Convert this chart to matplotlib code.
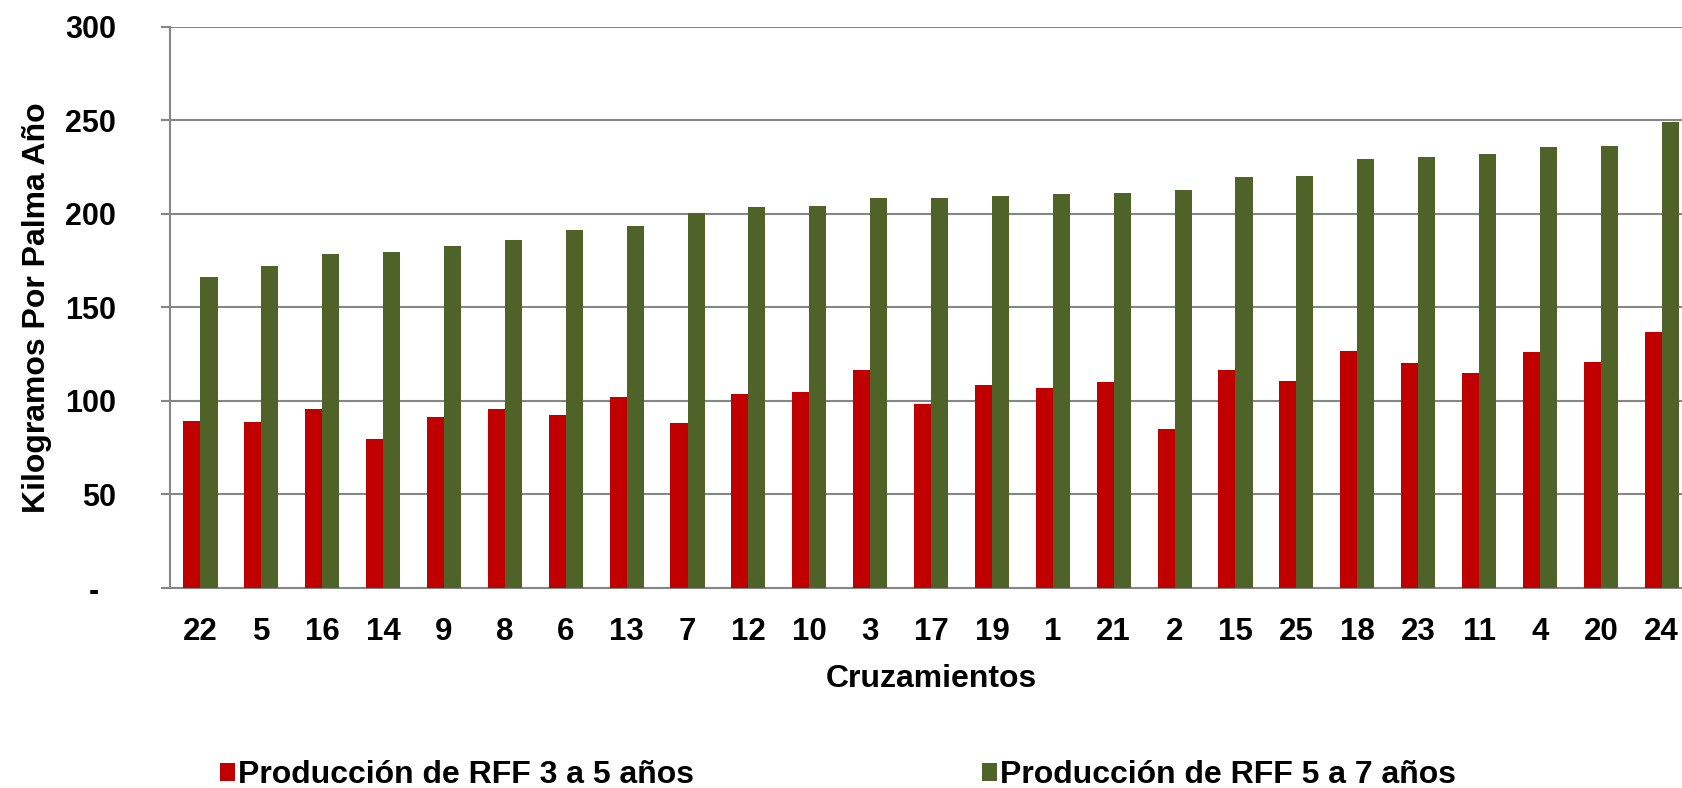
import numpy as np
import matplotlib
matplotlib.use('Agg')
from matplotlib import pyplot as plt

plt.rcParams['font.family'] = ['Liberation Sans', 'DejaVu Sans']
plt.rcParams['font.weight'] = 'bold'

# Cruzamientos ordenados por produccion de 5 a 7 años
cruzamientos = ['22', '5', '16', '14', '9', '8', '6', '13', '7', '12', '10', '3', '17',
                '19', '1', '21', '2', '15', '25', '18', '23', '11', '4', '20', '24']

rff_3_5 = [89.5, 88.6, 95.6, 79.9, 91.6, 95.7, 92.5, 102.0, 88.3, 103.6, 104.8, 116.4, 98.4,
           108.4, 106.8, 110.3, 85.1, 116.4, 110.7, 126.5, 120.1, 114.9, 126.2, 120.8, 136.9]
rff_5_7 = [166.4, 172.2, 178.3, 179.5, 182.9, 185.8, 191.6, 193.6, 200.2, 203.7, 204.4, 208.5, 208.7,
           209.8, 210.5, 211.2, 213.0, 219.6, 220.1, 229.2, 230.4, 232.2, 235.5, 236.4, 249.3]

etiquetas_y = ['-  ', '50', '100', '150', '200', '250', '300']
valores_y = [0, 50, 100, 150, 200, 250, 300]

fig = plt.figure(figsize=(16.82, 7.88), dpi=100)
ax = fig.add_axes([0.1011, 0.2538, 0.9049, 0.7122])

x = np.arange(len(cruzamientos))
ancho = 0.28
ax.bar(x - ancho / 2, rff_3_5, ancho, color='#C00000', label='Producción de RFF 3 a 5 años', zorder=3)
ax.bar(x + ancho / 2, rff_5_7, ancho, color='#4F6228', label='Producción de RFF 5 a 7 años', zorder=3)

ax.set_xlim(-0.5, len(cruzamientos) - 0.5)
ax.set_ylim(0, 300)
ax.set_yticks(valores_y)
ax.set_yticklabels(etiquetas_y)
ax.set_xticks(x)
ax.set_xticklabels(cruzamientos)

ax.grid(axis='y', color='#868686', linewidth=1.5, zorder=0)
for lado in ['top', 'right']:
    ax.spines[lado].set_visible(False)
for lado in ['left', 'bottom']:
    ax.spines[lado].set_color('#868686')
    ax.spines[lado].set_linewidth(1.5)

ax.tick_params(axis='y', length=6.5, width=1.5, color='#868686', pad=32.5, labelsize=22)
ax.tick_params(axis='x', length=0, pad=21, labelsize=22.5)

ax.set_xlabel('Cruzamientos', fontsize=23, fontweight='bold', labelpad=12)
ax.set_ylabel('Kilogramos Por Palma Año', fontsize=23, fontweight='bold', labelpad=9)

fig.legend(loc='center left', bbox_to_anchor=(0.1308, 0.016), ncol=2, frameon=False,
           fontsize=23, handlelength=0.47, handleheight=0.47, handletextpad=0.1,
           columnspacing=9.0, borderpad=0, borderaxespad=0)

fig.savefig('out.png', dpi=100, facecolor='white')
